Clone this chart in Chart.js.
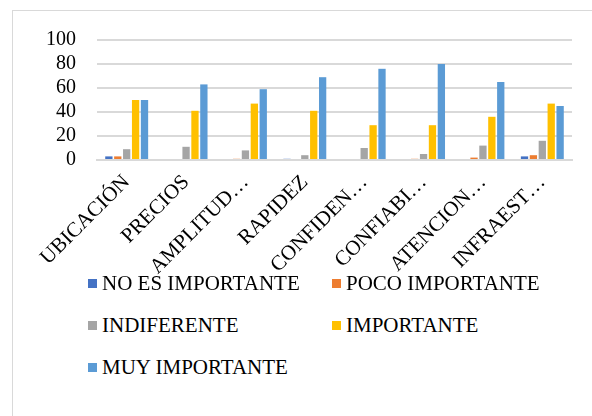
<!DOCTYPE html>
<html>
<head>
<meta charset="utf-8">
<script src="https://cdn.jsdelivr.net/npm/chart.js@4"></script>
<style>
    body { margin: 0; background: #fff; }
    #frame { position: absolute; left: 12px; top: 10px; width: 600px; height: 420px; border-left: 1px solid #d9d9d9; border-top: 1px solid #d9d9d9; }
    #wrap { position: absolute; left: 0; top: 0; width: 592px; height: 280px; }
    #legend { position: absolute; left: 88px; top: 271px; width: 500px; font-family: "Liberation Serif", "Times New Roman", serif; font-size: 21px; color: #000; }
    .item { position: absolute; white-space: nowrap; line-height: 24px; }
    .box { display: inline-block; width: 9px; height: 9px; margin-right: 5px; vertical-align: 2px; }
</style>
</head>
<body>
<div id="frame"></div>
<div id="wrap"><canvas id="grafico"></canvas></div>
<div id="legend"></div>
<script>
var categorias = ["UBICACIÓN", "PRECIOS", "AMPLITUD…", "RAPIDEZ", "CONFIDEN…", "CONFIABI…", "ATENCION…", "INFRAEST…"];
var noEsImportante = [3, 0, 0, 1, 0, 0, 0, 3];
var pocoImportante = [3, 0, 1, 0, 0, 1, 2, 4];
var indiferente = [9, 11, 8, 4, 10, 5, 12, 16];
var importante = [50, 41, 47, 41, 29, 29, 36, 47];
var muyImportante = [50, 63, 59, 69, 76, 80, 65, 45];
var ticksY = [0, 20, 40, 60, 80, 100];

var fuente = { family: "'Liberation Serif', 'Times New Roman', serif", size: 20 };

var ctx = document.getElementById("grafico");
var chart = new Chart(ctx, {
    type: 'bar',
    data: {
        labels: categorias,
        datasets: [
            { label: "NO ES IMPORTANTE", data: noEsImportante, backgroundColor: "#4472C4" },
            { label: "POCO IMPORTANTE", data: pocoImportante, backgroundColor: "#ED7D31" },
            { label: "INDIFERENTE", data: indiferente, backgroundColor: "#A5A5A5" },
            { label: "IMPORTANTE", data: importante, backgroundColor: "#FFC000" },
            { label: "MUY IMPORTANTE", data: muyImportante, backgroundColor: "#5B9BD5" }
        ]
    },
    options: {
        responsive: true,
        maintainAspectRatio: false,
        animation: false,
        categoryPercentage: 0.75,
        barPercentage: 0.82,
        layout: { padding: { top: 40, left: 25, right: 20, bottom: 0 } },
        plugins: {
            legend: { display: false },
            tooltip: { enabled: false }
        },
        scales: {
            x: {
                grid: { display: false },
                border: { color: "#d9d9d9", width: 2 },
                ticks: { font: { family: fuente.family, size: 21 }, color: "#000", maxRotation: 45, minRotation: 45, autoSkip: false, padding: 2 }
            },
            y: {
                min: 0,
                max: 100,
                afterBuildTicks: function (axis) {
                    axis.ticks = ticksY.map(function (v) { return { value: v }; });
                },
                grid: { color: "#d9d9d9", lineWidth: 2, drawTicks: false },
                border: { display: false },
                ticks: { font: fuente, color: "#000", padding: 21, autoSkip: false }
            }
        }
    }
});

var legendBox = document.getElementById("legend");
chart.data.datasets.forEach(function (ds, i) {
    var item = document.createElement("div");
    item.className = "item";
    item.style.left = (i % 2 === 0 ? 0 : 244) + "px";
    item.style.top = (Math.floor(i / 2) * 42) + "px";
    item.innerHTML = '<span class="box" style="background:' + ds.backgroundColor + '"></span>' + ds.label;
    legendBox.appendChild(item);
});
</script>
</body>
</html>
